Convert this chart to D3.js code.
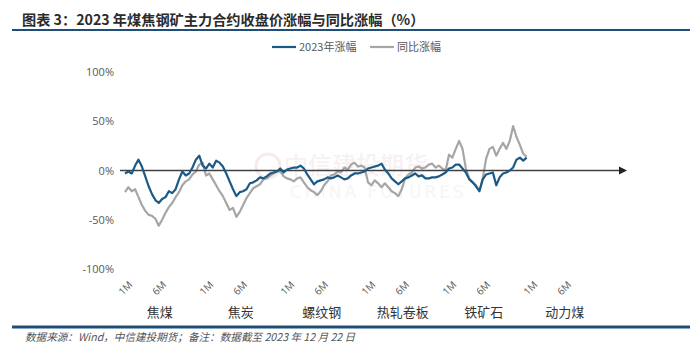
<!DOCTYPE html>
<html>
<head>
<meta charset="utf-8">
<script src="https://cdn.jsdelivr.net/npm/d3@7"></script>
<style>
  html, body { margin: 0; padding: 0; background: #fff; }
  svg { display: block; }
</style>
</head>
<body>
<svg id="chart" width="700" height="355"></svg>
<script>
// ---------------- DATA ----------------
const title = "图表 3：2023 年煤焦钢矿主力合约收盘价涨幅与同比涨幅（%）";
const source = "数据来源：Wind，中信建投期货；备注：数据截至 2023 年 12 月 22 日";
const seriesNames = ["2023年涨幅", "同比涨幅"];
const categories = ["焦煤", "焦炭", "螺纹钢", "热轧卷板", "铁矿石", "动力煤"];
const tickMonths = [1, 6];
const tickLabels = ["1M", "6M"];
const yTicks = [-100, -50, 0, 50, 100];

// semi-monthly readings (%), 24 per commodity
const jiaomei2023  = [-3, -1, -3, 5, 11, 4, -6, -16, -24, -30, -33, -29, -27, -21, -23, -19, -9, -1, -5, -3, 3, 11, 15, 5];
const jiaomeiYoY   = [-22, -17, -21, -19, -27, -35, -41, -45, -46, -49, -56, -50, -43, -37, -33, -27, -22, -15, -11, -9, -4, -1, 6, 8];
const jiaotan2023  = [2, 7, 3, 10, 8, 4, -3, -11, -19, -26, -22, -21, -19, -13, -12, -10, -7, -8, -6, -3, -2, -1, 2, -2];
const jiaotanYoY   = [-5, -3, -9, -15, -21, -26, -33, -40, -38, -47, -42, -35, -28, -23, -18, -16, -14, -9, -8, -5, -3, -1, -1, -6];
const luowen2023   = [1, 2, 3, 3, 5, 2, -4, -9, -14, -11, -10, -9, -7, -8, -7, -5, -7, -9, -8, -5, -3, -3, -2, -1];
const luowenYoY    = [-8, -9, -11, -8, -7, -12, -17, -20, -22, -25, -21, -15, -11, -5, -4, -1, -2, 3, 1, 6, 8, 4, 5, 3];
const rezha2023    = [2, 3, 4, 5, 7, 1, -3, -8, -11, -14, -11, -8, -7, -5, -3, -6, -5, -8, -8, -7, -7, -6, -4, -2];
const rezhaYoY     = [-12, -15, -10, -13, -17, -13, -17, -21, -23, -26, -19, -8, -4, -2, 3, 4, 2, 3, 6, 7, 3, 5, 2, 0];
const tiekuang2023 = [2, 3, 6, 6, 2, -2, -9, -12, -16, -21, -9, -4, -3, -2, -15, -7, -3, -2, 0, 3, 11, 13, 10, 13];
const tiekuangYoY  = [16, 13, 22, 30, 22, 2, -8, -12, -15, -21, -8, 12, 22, 24, 15, 22, 28, 22, 30, 45, 34, 26, 17, 14];

const growth2023 = [jiaomei2023, jiaotan2023, luowen2023, rezha2023, tiekuang2023];
const growthYoY  = [jiaomeiYoY, jiaotanYoY, luowenYoY, rezhaYoY, tiekuangYoY];

// ---------------- CHART ----------------
const svg = d3.select("#chart");
const blue = "#1b5a87";
const grey = "#a6a6a6";
const textGrey = "#595959";

const x = d3.scaleLinear().domain([0, categories.length]).range([125, 611]);
const y = d3.scaleLinear().domain([-100, 100]).range([269, 72]);

// title
svg.append("text")
  .attr("x", 22).attr("y", 25)
  .attr("font-family", "'Noto Sans CJK SC', sans-serif")
  .attr("font-weight", "bold")
  .attr("font-size", 14.2)
  .attr("fill", "#2b2b2b")
  .text(title);

// rules
svg.append("line").attr("x1", 12).attr("x2", 690).attr("y1", 30).attr("y2", 30)
  .attr("stroke", "#1f4e79").attr("stroke-width", 2);
svg.append("line").attr("x1", 12).attr("x2", 690).attr("y1", 327).attr("y2", 327)
  .attr("stroke", "#1f4e79").attr("stroke-width", 3);

// source
svg.append("text")
  .attr("x", 25).attr("y", 341)
  .attr("font-family", "'Noto Sans CJK SC', sans-serif")
  .attr("font-style", "italic")
  .attr("font-size", 10.6)
  .attr("fill", "#555")
  .text(source);

// legend
const legend = svg.append("g").attr("font-family", "'Noto Sans CJK SC', sans-serif")
  .attr("font-size", 11).attr("fill", textGrey);
const legendItems = [
  { name: seriesNames[0], color: blue, x: 272 },
  { name: seriesNames[1], color: grey, x: 370 }
];
legendItems.forEach(it => {
  legend.append("line").attr("x1", it.x).attr("x2", it.x + 24)
    .attr("y1", 47).attr("y2", 47).attr("stroke", it.color).attr("stroke-width", 2.2);
  legend.append("text").attr("x", it.x + 27).attr("y", 51).text(it.name);
});

// watermark (faint)
const wm = svg.append("g").attr("opacity", 0.5);
wm.append("circle").attr("cx", 268).attr("cy", 166).attr("r", 12)
  .attr("fill", "none").attr("stroke", "#f0d6d6").attr("stroke-width", 3);
wm.append("text").attr("x", 284).attr("y", 174)
  .attr("font-family", "'Noto Sans CJK SC', sans-serif").attr("font-size", 24)
  .attr("fill", "#f1e2e2").text("中信建投期货");
wm.append("text").attr("x", 290).attr("y", 198)
  .attr("font-family", "'DejaVu Sans', sans-serif").attr("font-size", 17)
  .attr("letter-spacing", 3)
  .attr("fill", "#eeeeee").text("CHINA FUTURES");

// y axis labels
const yAxis = d3.axisLeft(y).tickValues(yTicks).tickFormat(d => d + "%").tickSize(0).tickPadding(3);
const gy = svg.append("g").attr("transform", "translate(117,0)").call(yAxis);
gy.select(".domain").remove();
gy.selectAll("text")
  .attr("font-family", "'Open Sans', sans-serif")
  .attr("font-size", 11).attr("fill", textGrey);

// x axis tick labels (1M / 6M per commodity)
const tickData = [];
categories.forEach((c, b) => {
  tickMonths.forEach((m, i) => tickData.push({ v: b + (m - 1) / 12, label: tickLabels[i] }));
});
const xAxis = d3.axisBottom(x).tickValues(tickData.map(d => d.v))
  .tickFormat((d, i) => tickData[i].label).tickSize(0);
const gx = svg.append("g").attr("transform", "translate(0,280)").call(xAxis);
gx.select(".domain").remove();
gx.selectAll("text")
  .attr("x", 0).attr("y", 0).attr("dy", "0.35em")
  .attr("text-anchor", "middle")
  .attr("transform", "translate(0,8) rotate(-45)")
  .attr("font-family", "'Open Sans', sans-serif")
  .attr("font-size", 10).attr("fill", textGrey);

// category labels
svg.append("g").selectAll("text").data(categories).join("text")
  .attr("x", (d, b) => x(b + 0.43))
  .attr("y", 317)
  .attr("text-anchor", "middle")
  .attr("font-family", "'Noto Sans CJK SC', sans-serif")
  .attr("font-size", 13).attr("fill", "#333")
  .text(d => d);

// series lines
function flatten(groups) {
  const pts = [];
  groups.forEach((arr, b) => arr.forEach((v, k) => pts.push({ t: b + k / arr.length, v })));
  return pts;
}
const line = d3.line().x(d => x(d.t)).y(d => y(d.v));

svg.append("path").datum(flatten(growthYoY))
  .attr("d", line).attr("fill", "none")
  .attr("stroke", grey).attr("stroke-width", 2.2).attr("stroke-linejoin", "round");

// zero axis with arrow
svg.append("line").attr("x1", 120).attr("x2", 619)
  .attr("y1", y(0)).attr("y2", y(0))
  .attr("stroke", "#404040").attr("stroke-width", 1.5);
svg.append("path")
  .attr("d", `M619,${y(0) - 4} L627,${y(0)} L619,${y(0) + 4} Z`)
  .attr("fill", "#222");

svg.append("path").datum(flatten(growth2023))
  .attr("d", line).attr("fill", "none")
  .attr("stroke", blue).attr("stroke-width", 2.2).attr("stroke-linejoin", "round");
</script>
</body>
</html>
